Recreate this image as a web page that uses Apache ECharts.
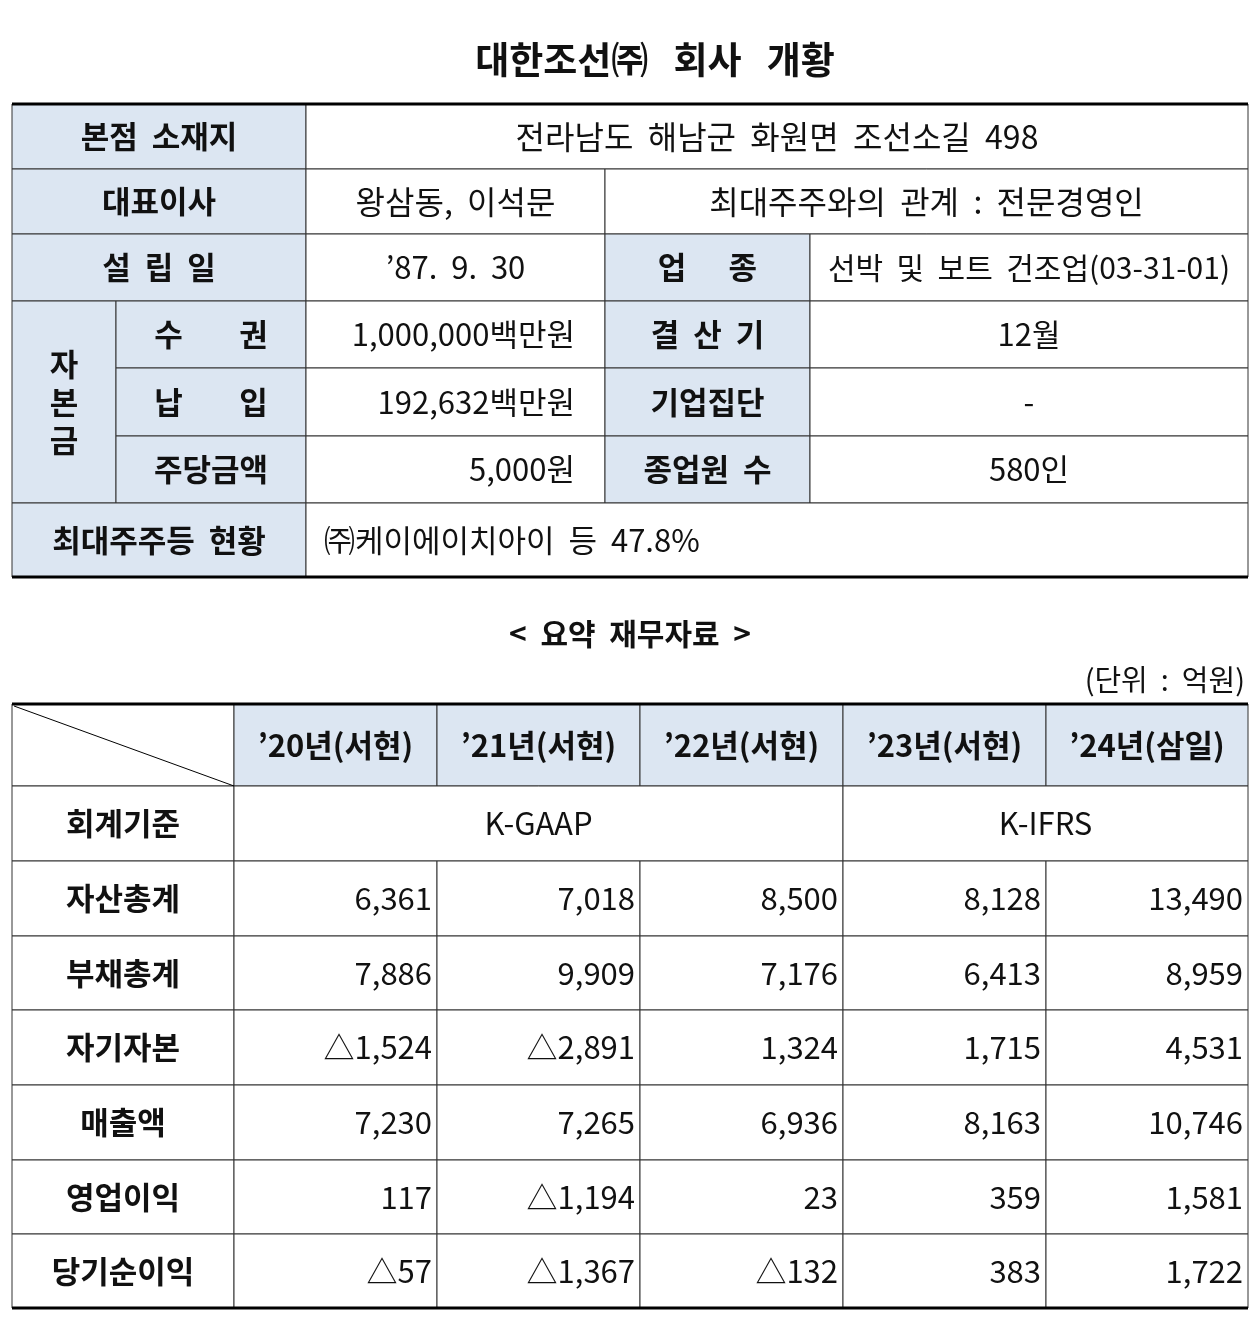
<!DOCTYPE html>
<html><head><meta charset="utf-8">
<script src="https://cdn.jsdelivr.net/npm/echarts@6/dist/echarts.min.js"></script>
<style>html,body{margin:0;background:#fff}#c{width:1260px;height:1320px}</style>
</head><body><div id="c"></div>
<script>
const title = "대한조선㈜   회사   개황";
const subtitle = "<  요약  재무자료  >";
const unitText = "(단위  :  억원)";
const years = ["’20년(서현)","’21년(서현)","’22년(서현)","’23년(서현)","’24년(삼일)"];
const standards = ["K-GAAP","K-IFRS"];
const rowLabels = ["자산총계","부채총계","자기자본","매출액","영업이익","당기순이익"];
const values = [
 ["6,361","7,018","8,500","8,128","13,490"],
 ["7,886","9,909","7,176","6,413","8,959"],
 ["△1,524","△2,891","1,324","1,715","4,531"],
 ["7,230","7,265","6,936","8,163","10,746"],
 ["117","△1,194","23","359","1,581"],
 ["△57","△1,367","△132","383","1,722"]
];
const info = {
 addr:"전라남도  해남군  화원면  조선소길  498", ceo:"왕삼동,  이석문", rel:"최대주주와의  관계  :  전문경영인",
 est:"’87.  9.  30", biz:"선박  및  보트  건조업(03-31-01)",
 capLabels:["수        권","납        입","주당금액"], capValues:["1,000,000백만원","192,632백만원","5,000원"],
 sideLabels:["결  산  기","기업집단","종업원  수"], sideValues:["12월","-","580인"],
 holder:"㈜케이에이치아이  등  47.8%"
};
const F = "'Noto Sans CJK KR','Noto Sans',sans-serif";
const FILL = "#dce6f2";
const els = [];
function rect(x1,y1,x2,y2,fill){els.push({type:'rect',shape:{x:x1,y:y1,width:x2-x1,height:y2-y1},style:{fill:fill||'#fff',stroke:'#333',lineWidth:1},z:1});}
function line(x1,y1,x2,y2,w){els.push({type:'line',shape:{x1,y1,x2,y2},style:{stroke:'#000',lineWidth:w||1},z:3});}
function text(x,y,s,align,bold,size){els.push({type:'text',x,y,style:{text:s,font:(bold?'bold ':'')+(size||31)+'px '+F,fill:'#111',textAlign:align||'center',textVerticalAlign:'middle'},z:4});}
function cell(x1,y1,x2,y2,s,opt){opt=opt||{};rect(x1,y1,x2,y2,opt.fill);const my=(y1+y2)/2;
 if(s===undefined)return;
 if(opt.align==='right')text(x2-30,my,s,'right',opt.bold,opt.size);
 else if(opt.align==='left')text(x1+18,my,s,'left',opt.bold,opt.size);
 else text((x1+x2)/2,my,s,'center',opt.bold,opt.size);}
text(655,60,title,'center',true,37);
const c=[12,306,605,810,1248], r=[104,169,234,301,368,436,503,577];
cell(c[0],r[0],c[1],r[1],"본점  소재지",{fill:FILL,bold:true});
cell(c[1],r[0],c[4],r[1],info.addr,{size:32});
cell(c[0],r[1],c[1],r[2],"대표이사",{fill:FILL,bold:true});
cell(c[1],r[1],c[2],r[2],info.ceo,{size:32});
cell(c[2],r[1],c[4],r[2],info.rel,{size:32});
cell(c[0],r[2],c[1],r[3],"설  립  일",{fill:FILL,bold:true});
cell(c[1],r[2],c[2],r[3],info.est);
cell(c[2],r[2],c[3],r[3],"업      종",{fill:FILL,bold:true});
cell(c[3],r[2],c[4],r[3],info.biz,{size:30});
cell(c[0],r[3],116,r[6],undefined,{fill:FILL});
els.push({type:'text',x:64,y:(r[3]+r[6])/2,style:{text:"자\n본\n금",font:'bold 31px '+F,lineHeight:38,fill:'#111',textAlign:'center',textVerticalAlign:'middle'},z:4});
for(let i=0;i<3;i++){
 cell(116,r[3+i],c[1],r[4+i],info.capLabels[i],{fill:FILL,bold:true});
 rect(c[1],r[3+i],c[2],r[4+i]); text(c[2]-30,(r[3+i]+r[4+i])/2,info.capValues[i],'right');
 cell(c[2],r[3+i],c[3],r[4+i],info.sideLabels[i],{fill:FILL,bold:true});
 cell(c[3],r[3+i],c[4],r[4+i],info.sideValues[i]);
}
cell(c[0],r[6],c[1],r[7],"최대주주등  현황",{fill:FILL,bold:true});
cell(c[1],r[6],c[4],r[7],info.holder,{align:'left'});
line(12,r[0],1248,r[0],3); line(12,r[7],1248,r[7],3);
text(630,634,subtitle,'center',true,30);
text(1245,680,unitText,'right',false,29);
const xc=[12,234,437,640,843,1046,1248], yr=[704,786,861,936,1010,1085,1160,1234,1308];
rect(xc[0],yr[0],xc[1],yr[1]);
line(xc[0]+2,yr[0]+2,xc[1],yr[1],1);
years.forEach((y,i)=>cell(xc[i+1],yr[0],xc[i+2],yr[1],y,{fill:FILL,bold:true}));
cell(xc[0],yr[1],xc[1],yr[2],"회계기준",{bold:true});
cell(xc[1],yr[1],xc[4],yr[2],standards[0]);
cell(xc[4],yr[1],xc[6],yr[2],standards[1]);
rowLabels.forEach((lab,i)=>{
 cell(xc[0],yr[i+2],xc[1],yr[i+3],lab,{bold:true});
 values[i].forEach((v,j)=>{rect(xc[j+1],yr[i+2],xc[j+2],yr[i+3]);text(xc[j+2]-5,(yr[i+2]+yr[i+3])/2,v,'right',false,31);});
});
line(12,yr[0],1248,yr[0],3); line(12,yr[8],1248,yr[8],3);
const chart=echarts.init(document.getElementById('c'));
chart.setOption({animation:false,graphic:{elements:els}});
</script></body></html>
